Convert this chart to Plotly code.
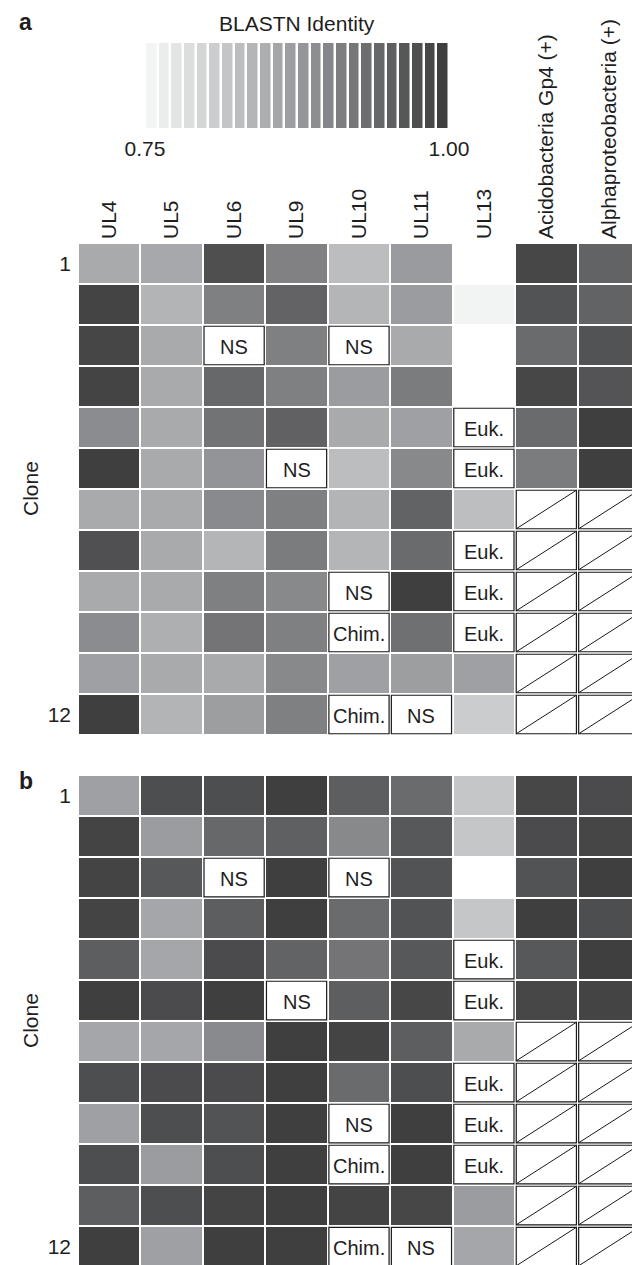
import plotly.graph_objects as go

# ---------------- data ----------------
columns = ["UL4", "UL5", "UL6", "UL9", "UL10", "UL11", "UL13",
           "Acidobacteria Gp4 (+)", "Alphaproteobacteria (+)"]
clone_ticks = [1, 12]
clone_labels = ["1", "12"]

scale_min = 0.75
scale_max = 1.00
scale_steps = 24
scale_ticks = [0.75, 1.00]
scale_ticktext = ["0.75", "1.00"]

# numbers = BLASTN identity; strings = flags ("" blank, "/" not applicable)
panel_a = [
    [0.853, 0.855, 0.978, 0.909, 0.827, 0.873, "", 0.989, 0.951],
    [0.993, 0.839, 0.911, 0.950, 0.837, 0.872, 0.751, 0.973, 0.951],
    [0.990, 0.853, "NS", 0.911, "NS", 0.853, "", 0.940, 0.973],
    [0.993, 0.853, 0.944, 0.911, 0.872, 0.916, "", 0.989, 0.971],
    [0.894, 0.853, 0.929, 0.953, 0.853, 0.866, "Euk.", 0.940, 1.000],
    [1.000, 0.853, 0.883, "NS", 0.827, 0.899, "Euk.", 0.916, 1.000],
    [0.853, 0.853, 0.897, 0.911, 0.839, 0.951, 0.825, "/", "/"],
    [0.976, 0.853, 0.837, 0.916, 0.837, 0.940, "Euk.", "/", "/"],
    [0.853, 0.853, 0.911, 0.899, "NS", 1.000, "Euk.", "/", "/"],
    [0.894, 0.846, 0.927, 0.911, "Chim.", 0.933, "Euk.", "/", "/"],
    [0.866, 0.853, 0.853, 0.899, 0.866, 0.870, 0.866, "/", "/"],
    [1.000, 0.839, 0.870, 0.911, "Chim.", "NS", 0.806, "/", "/"],
]

panel_b = [
    [0.867, 0.980, 0.980, 1.000, 0.958, 0.940, 0.814, 0.989, 0.983],
    [0.993, 0.872, 0.944, 0.955, 0.899, 0.966, 0.814, 0.983, 0.990],
    [0.993, 0.966, "NS", 1.000, "NS", 0.973, "", 0.973, 1.000],
    [0.993, 0.858, 0.958, 1.000, 0.940, 0.973, 0.814, 1.000, 0.980],
    [0.958, 0.858, 0.983, 0.951, 0.927, 0.966, "Euk.", 0.966, 1.000],
    [1.000, 0.983, 1.000, "NS", 0.958, 0.989, "Euk.", 0.989, 0.993],
    [0.858, 0.858, 0.897, 1.000, 0.993, 0.958, 0.853, "/", "/"],
    [0.980, 0.983, 0.983, 1.000, 0.940, 0.980, "Euk.", "/", "/"],
    [0.867, 0.980, 0.973, 1.000, "NS", 1.000, "Euk.", "/", "/"],
    [0.980, 0.872, 0.980, 1.000, "Chim.", 1.000, "Euk.", "/", "/"],
    [0.958, 0.980, 0.993, 1.000, 0.993, 0.989, 0.872, "/", "/"],
    [1.000, 0.867, 1.000, 1.000, "Chim.", "NS", 0.858, "/", "/"],
]

# ---------------- style ----------------
# the page body adds an 8px offset; the figure is sized to fill the rest
OFF = 8
W, H = 640 - OFF, 1265 - OFF
FONT = "Liberation Sans, Arial, Helvetica, sans-serif"
TXT = "#1e1e1e"
colorscale = [[0.0, "rgb(243,244,244)"], [0.5, "rgb(153,154,157)"],
              [1.0, "rgb(63,63,64)"]]


def px_x(p):
    return (p - OFF) / W


def px_y(p):
    return 1 - (p - OFF) / H


def split(panel):
    z, flags = [], []
    for r, row in enumerate(panel):
        zr = []
        for c, v in enumerate(row):
            if isinstance(v, str):
                zr.append(None)
                flags.append((r, c, v))
            else:
                zr.append(v)
        z.append(zr)
    return z, flags


fig = go.Figure()
xs = list(range(len(columns)))
ys = list(range(len(panel_a)))

shapes = []
annotations = []

for panel, xa, ya in [(panel_a, "x", "y"), (panel_b, "x2", "y2")]:
    z, flags = split(panel)
    fig.add_trace(go.Heatmap(
        z=z, x=xs, y=ys, xaxis=xa, yaxis=ya,
        zmin=scale_min, zmax=scale_max, colorscale=colorscale,
        showscale=False, xgap=2, ygap=2, hoverongaps=False))
    dx, dy = 0.018, 0.03
    for r, c, f in flags:
        if f == "":
            continue
        x0, x1 = c - 0.5 + dx, c + 0.5 - dx
        y0, y1 = r - 0.5 + dy, r + 0.5 - dy
        shapes.append(dict(type="rect", xref=xa, yref=ya, x0=x0, x1=x1,
                           y0=y0, y1=y1, fillcolor="white",
                           line=dict(color="#1a1a1a", width=1.2)))
        if f == "/":
            shapes.append(dict(type="line", xref=xa, yref=ya, x0=x0, y0=y1,
                               x1=x1, y1=y0,
                               line=dict(color="#1a1a1a", width=1)))
        else:
            annotations.append(dict(x=c, y=r + 0.04, xref=xa, yref=ya,
                                    text=f, showarrow=False,
                                    font=dict(size=20, color=TXT, family=FONT)))

# colour key
step = (scale_max - scale_min) / scale_steps
key_x = [scale_min + (i + 0.5) * step for i in range(scale_steps)]
key_z = [[scale_min + i * (scale_max - scale_min) / (scale_steps - 1)
          for i in range(scale_steps)]]
fig.add_trace(go.Heatmap(
    z=key_z, x=key_x, y=[0], xaxis="x3", yaxis="y3",
    zmin=scale_min, zmax=scale_max, colorscale=colorscale,
    showscale=False, xgap=2.5, ygap=0, hoverinfo="skip"))

axis_font = dict(size=21, color=TXT, family=FONT)
grid_x_domain = [px_x(78), 1.0]
common = dict(showgrid=False, zeroline=False, showline=False, ticks="",
              automargin=False)

fig.update_layout(
    template="none",
    width=W, height=H,
    autosize=False,
    margin=dict(l=0, r=0, t=0, b=0, pad=0, autoexpand=False),
    paper_bgcolor="white", plot_bgcolor="white",
    showlegend=False,
    font=dict(family=FONT, color=TXT),
    xaxis=dict(domain=grid_x_domain, range=[-0.5, 8.5], anchor="y",
               side="top", tickvals=xs, ticktext=columns, tickangle=-90,
               tickfont=axis_font, ticklabelstandoff=3, **common),
    yaxis=dict(domain=[px_y(735), px_y(243)], range=[11.5, -0.5],
               anchor="x", tickvals=[t - 1 for t in clone_ticks],
               ticktext=clone_labels, tickfont=axis_font,
               ticklabelstandoff=6, **common),
    xaxis2=dict(domain=grid_x_domain, range=[-0.5, 8.5], anchor="y2",
                showticklabels=False, **common),
    yaxis2=dict(domain=[0, px_y(775)], range=[11.45, -0.5], anchor="x2",
                tickvals=[t - 1 for t in clone_ticks], ticktext=clone_labels,
                tickfont=axis_font, ticklabelstandoff=6, **common),
    xaxis3=dict(domain=[px_x(145), px_x(449)], range=[scale_min, scale_max],
                anchor="y3", tickvals=scale_ticks, ticktext=scale_ticktext,
                tickfont=axis_font, ticklabelstandoff=6, **common),
    yaxis3=dict(domain=[px_y(128), px_y(43)], range=[-0.5, 0.5],
                anchor="x3", visible=False, automargin=False),
    shapes=shapes,
)

annotations += [
    dict(x=px_x(297), y=px_y(23), xref="paper", yref="paper",
         text="BLASTN Identity", showarrow=False, font=axis_font,
         xanchor="center", yanchor="middle"),
    dict(x=px_x(25), y=px_y(8), xref="paper", yref="paper", text="<b>a</b>",
         showarrow=False, font=dict(size=23, color=TXT, family=FONT),
         xanchor="center", yanchor="top", borderpad=0),
    dict(x=px_x(26), y=px_y(781), xref="paper", yref="paper", text="<b>b</b>",
         showarrow=False, font=dict(size=23, color=TXT, family=FONT),
         xanchor="center", yanchor="middle"),
    dict(x=px_x(30), y=px_y(489), xref="paper", yref="paper", text="Clone",
         showarrow=False, textangle=-90, font=axis_font,
         xanchor="center", yanchor="middle"),
    dict(x=px_x(30), y=px_y(1021), xref="paper", yref="paper", text="Clone",
         showarrow=False, textangle=-90, font=axis_font,
         xanchor="center", yanchor="middle"),
]
fig.update_layout(annotations=annotations)

fig.write_html("out.html")
